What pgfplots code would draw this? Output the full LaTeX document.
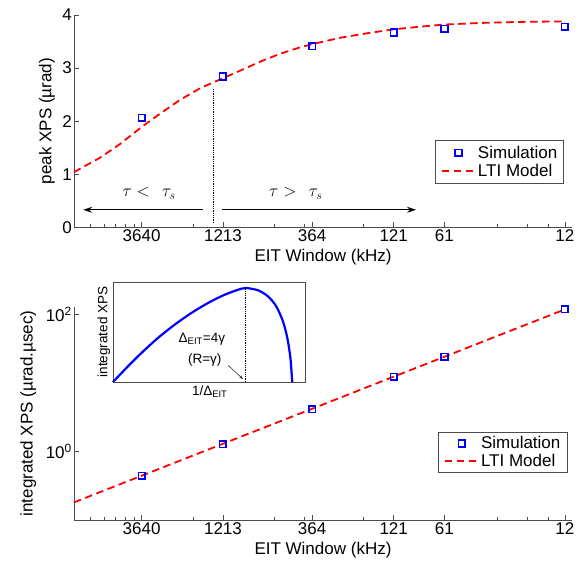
\documentclass[border=0pt]{standalone}
\usepackage{fontspec}
\setmainfont{Liberation Sans}
\usepackage{pgfplots}
\pgfplotsset{compat=1.18}
\usetikzlibrary{arrows.meta}
\newcommand{\mf}{\fontsize{17}{20}\selectfont}
\newcommand{\insetf}{\fontsize{13.5}{16}\selectfont}
\definecolor{axgray}{gray}{0.3}
\pgfplotsset{
  legend image code/.code={\draw[mark repeat=2,mark phase=2,#1] plot coordinates {(0pt,0pt)(17pt,0pt)(34pt,0pt)};},
}
\tikzset{
  simst/.style={only marks, mark=square, mark size=3.3pt, blue, line width=1.6pt},
  ltist/.style={red, line width=1.8pt, dash pattern=on 7.5pt off 4.5pt},
}
\begin{document}
\begin{tikzpicture}
\path[use as bounding box] (0pt,0pt) rectangle (582pt,-561pt);
% ---------- top panel ----------
\begin{axis}[at={(74pt,-227.3pt)}, anchor=south west, height=212.3pt,
    scale only axis, width=498pt,
    /pgf/number format/assume math mode=true,
    xmode=log, x dir=reverse, xmin=10.9, xmax=9070,
    axis x line*=bottom, axis y line*=left,
    axis line style={axgray, line width=0.8pt, -},
    tick align=inside, major tick length=5pt, minor tick length=3pt,
    tick style={axgray, line width=0.7pt},
    xtick={12,61,121,364,1213,3640}, xticklabels={12,61,121,364,1213,3640},
    minor xtick={7309,6050,5215,4556,4035,1819,609,406,183,30,20,15.05},
    tick label style={font=\mf},
    label style={font=\mf},
    xlabel={EIT Window (kHz)},
    xlabel style={at={(axis description cs:0.5,-0.14)}, anchor=center},
    xticklabel style={inner sep=2pt},
    yticklabel style={inner sep=2pt},
    legend style={draw=axgray, line width=0.8pt, font=\mf, inner xsep=5pt, inner ysep=4pt, row sep=1pt, nodes={inner sep=1.5pt}, cells={anchor=west}, fill=white, at={(0.9845,0.411)}, anchor=north east},
    clip=false,
  ymin=0, ymax=4, ytick={0,1,2,3,4},
  ylabel={peak XPS (µrad)},
  ylabel style={at={(axis description cs:-0.054,0.5)}, anchor=center}]
\addplot[simst] coordinates {(3640,2.06) (1213,2.84) (364,3.41) (121,3.67) (61,3.74) (12,3.78)};
\addlegendentry{Simulation}
\addplot[ltist, no markers] coordinates {
(9070,1.04) (6390,1.31) (4870,1.57) (3640,1.89) (2840,2.14) (2167,2.40) (1655,2.62)
(1213,2.81) (964,2.95) (736,3.12) (561,3.27) (429,3.39) (364,3.45) (250,3.57)
(178,3.65) (121,3.73) (84.8,3.78) (61,3.82) (37.7,3.85) (22.0,3.87) (12,3.88)};
\addlegendentry{LTI Model}
\draw[black, line width=0.8pt, densely dotted] (axis cs:1389,0.08) -- (axis cs:1389,2.6);
\draw[black, line width=0.8pt, -{Stealth[length=9pt,width=6pt]}] (axis cs:1592,0.33) -- (axis cs:8010,0.33);
\draw[black, line width=0.8pt, -{Stealth[length=9pt,width=6pt]}] (axis cs:1228,0.33) -- (axis cs:89.5,0.33);
\node[anchor=base, font=\fontsize{18}{20}\selectfont] at (axis cs:3290,0.576) {$\tau <\;\,\tau_s$};
\node[anchor=base, font=\fontsize{18}{20}\selectfont] at (axis cs:454,0.576) {$\tau >\;\,\tau_s$};
\end{axis}
% ---------- bottom panel ----------
\begin{axis}[at={(74pt,-520pt)}, anchor=south west, height=213pt,
    scale only axis, width=498pt,
    xmode=log, x dir=reverse, xmin=10.9, xmax=9070,
    axis x line*=bottom, axis y line*=left,
    axis line style={axgray, line width=0.8pt, -},
    tick align=inside, major tick length=5pt, minor tick length=3pt,
    tick style={axgray, line width=0.7pt},
    xtick={12,61,121,364,1213,3640}, xticklabels={12,61,121,364,1213,3640},
    minor xtick={7309,6050,5215,4556,4035,1819,609,406,183,30,20,15.05},
    tick label style={font=\mf},
    label style={font=\mf},
    xlabel={EIT Window (kHz)},
    xlabel style={at={(axis description cs:0.5,-0.143)}, anchor=center},
    xticklabel style={inner sep=2pt},
    yticklabel style={inner sep=2pt},
    legend style={draw=axgray, line width=0.8pt, font=\mf, inner xsep=5pt, inner ysep=3pt, row sep=1pt, nodes={inner sep=1.5pt}, cells={anchor=west}, fill=white, at={(0.9906,0.4146)}, anchor=north east},
    clip=false,
  ymode=log, ymin=0.1, ymax=129, ytick={1,100}, minor ytick={},
  yticklabels={10\textsuperscript{0},10\textsuperscript{2}},
  ylabel={integrated XPS (µrad.µsec)},
  ylabel style={at={(axis description cs:-0.092,0.5)}, anchor=center}]
\addplot[simst] coordinates {(3640,0.443) (1213,1.28) (364,4.14) (121,12.4) (61,24.1) (12,119)};
\addlegendentry{Simulation}
\addplot[ltist, no markers] coordinates {(9070,0.181) (3640,0.443) (1213,1.30) (364,4.21) (121,12.4) (61,24.2) (12,119)};
\addlegendentry{LTI Model}
\end{axis}
% ---------- inset ----------
\begin{axis}[at={(113pt,-382pt)}, anchor=south west, scale only axis,
  width=192pt, height=100pt, xmin=0, xmax=1, ymin=0, ymax=1, ticks=none,
  axis line style={axgray, line width=0.8pt},
  axis background/.style={fill=white}, clip=false]
\addplot[blue, line width=2.2pt, smooth, tension=0.5] coordinates {
(0,0) (0.078,0.157) (0.148,0.29) (0.234,0.44) (0.321,0.573) (0.408,0.69) (0.495,0.79)
(0.582,0.873) (0.668,0.933) (0.694,0.94) (0.755,0.917) (0.807,0.857) (0.85,0.757)
(0.885,0.607) (0.908,0.44) (0.924,0.24) (0.932,0.04) (0.934,0)};
\draw[black, line width=0.8pt, densely dotted] (axis cs:0.689,0) -- (axis cs:0.689,0.94);
\draw[black!80, line width=0.6pt, -{Stealth[length=4pt,width=3pt]}] (axis cs:0.599,0.167) -- (axis cs:0.677,0.03);
\node[font=\insetf] at (axis cs:0.463,0.43) {Δ\textsubscript{EIT}=4γ};
\node[font=\insetf] at (axis cs:0.478,0.223) {(R=γ)};
\node[font=\insetf] at (axis cs:0.504,-0.10) {1/Δ\textsubscript{EIT}};
\node[font=\insetf, rotate=90] at (axis cs:-0.048,0.5) {integrated XPS};
\end{axis}
\end{tikzpicture}
\end{document}
